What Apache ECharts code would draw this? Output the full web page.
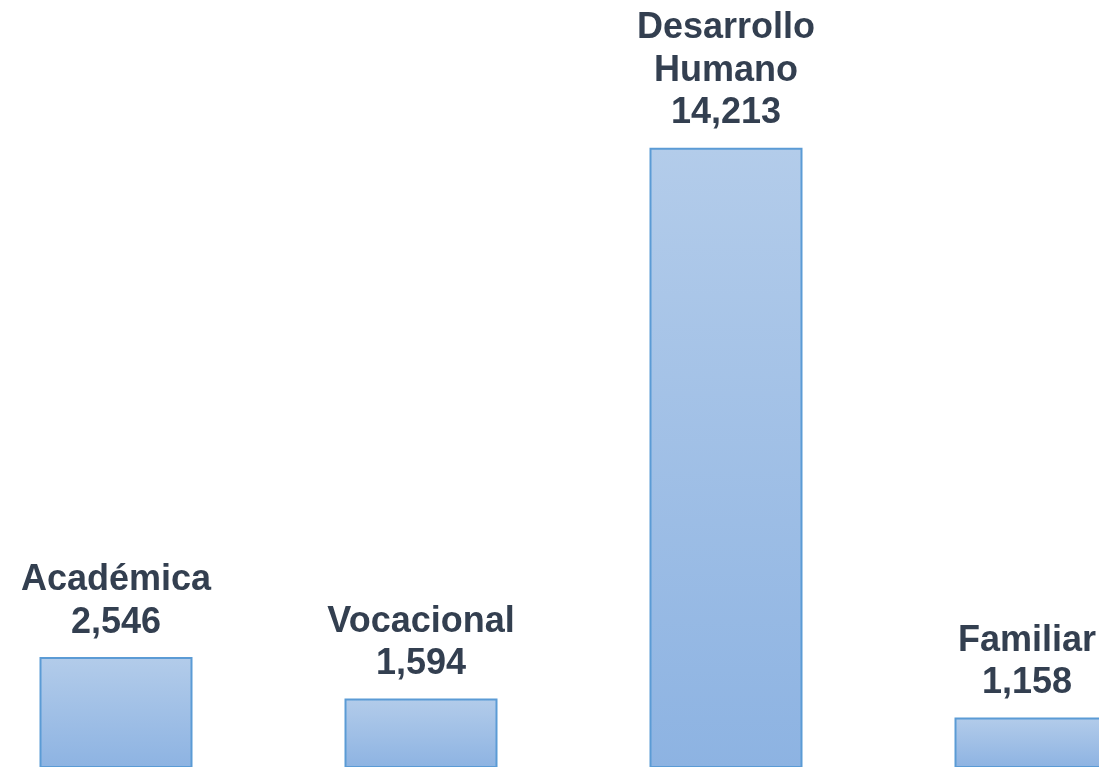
<!DOCTYPE html>
<html>
<head>
<meta charset="utf-8">
<script src="https://cdn.jsdelivr.net/npm/echarts@6/dist/echarts.min.js"></script>
<style>
html,body{margin:0;padding:0;background:#fff;}
#chart{width:1099px;height:767px;}
</style>
</head>
<body>
<div id="chart"></div>
<script>
const categories = ['Académica', 'Vocacional', 'Desarrollo\nHumano', 'Familiar'];
const values = [2546, 1594, 14213, 1158];

const chart = echarts.init(document.getElementById('chart'));
chart.setOption({
  animation: false,
  grid: { left: -36.5, width: 1220, top: 0, bottom: -1, containLabel: false, outerBoundsMode: 'none' },
  xAxis: {
    type: 'category',
    data: categories,
    show: false
  },
  yAxis: {
    type: 'value',
    min: 0,
    max: 17600,
    show: false
  },
  series: [{
    type: 'bar',
    data: values,
    barWidth: 153,
    itemStyle: {
      color: new echarts.graphic.LinearGradient(0, 0, 0, 1, [
        { offset: 0, color: '#B3CCEA' },
        { offset: 1, color: '#8DB3E2' }
      ]),
      borderColor: '#5B9BD5',
      borderWidth: 2
    },
    labelLayout: function (params) {
      const r = params.labelRect;
      const over = r.x + r.width - 1096;
      return over > 0 ? { dx: -over } : {};
    },
    label: {
      show: true,
      position: 'top',
      distance: 13,
      fontFamily: 'Liberation Sans, Arial, sans-serif',
      fontWeight: 'bold',
      fontSize: 36,
      lineHeight: 42.5,
      color: '#333F50',
      align: 'center',
      formatter: function (p) {
        return p.name + '\n' + p.value.toLocaleString('en-US');
      }
    }
  }]
});
</script>
</body>
</html>
